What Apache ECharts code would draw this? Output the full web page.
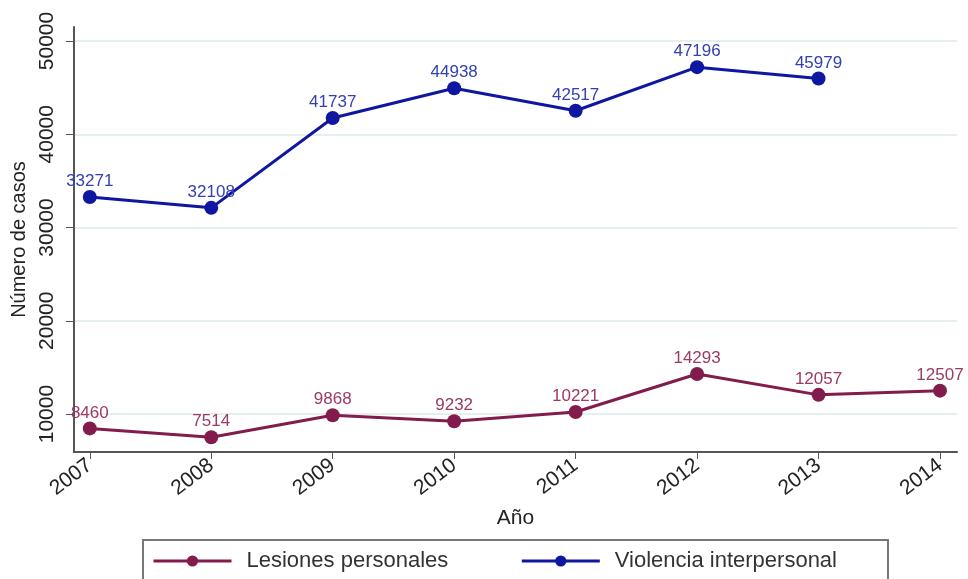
<!DOCTYPE html>
<html>
<head>
<meta charset="utf-8">
<script src="https://cdn.jsdelivr.net/npm/echarts@6/dist/echarts.min.js"></script>
<style>html,body{margin:0;padding:0;background:#fff}#c{width:968px;height:579px}</style>
</head>
<body>
<div id="c"></div>
<script>
const years = [2007, 2008, 2009, 2010, 2011, 2012, 2013, 2014];
const lesiones = [8460, 7514, 9868, 9232, 10221, 14293, 12057, 12507];
const violencia = [33271, 32108, 41737, 44938, 42517, 47196, 45979, null];
const yTicks = [10000, 20000, 30000, 40000, 50000];

const font = 'Liberation Sans, Arial, sans-serif';
const chart = echarts.init(document.getElementById('c'));
function pairs(vals){ return years.map((y,i)=>[y, vals[i]]).filter(p=>p[1]!==null); }

chart.setOption({
  animation: false,
  grid: {left: 74, right: 11, top: 27, bottom: 127, outerBoundsMode: 'none', containLabel: false},
  xAxis: {
    type: 'value', min: 2006.87, max: 2014.14,
    name: 'Año', nameLocation: 'middle', nameGap: 56,
    nameTextStyle: {fontFamily: font, fontSize: 21, color: '#222'},
    axisLine: {show: true, lineStyle: {color: '#555', width: 2}},
    axisTick: {show: true, length: 7, customValues: years, lineStyle: {color: '#555'}},
    axisLabel: {customValues: years, rotate: 37, fontFamily: font, fontSize: 21, color: '#222', margin: 11,
      formatter: v => String(Math.round(v))},
    splitLine: {show: false}
  },
  yAxis: {
    type: 'value', min: 5930, max: 51500,
    name: 'Número de casos', nameLocation: 'middle', nameGap: 41, nameRotate: 90,
    nameTextStyle: {fontFamily: font, fontSize: 20, color: '#222'},
    axisLine: {show: true, lineStyle: {color: '#555', width: 2}},
    axisTick: {show: true, length: 8, customValues: yTicks, lineStyle: {color: '#555'}},
    axisLabel: {customValues: yTicks, rotate: 90, fontFamily: font, fontSize: 21, color: '#222', margin: 16,
      formatter: v => String(Math.round(v))},
    splitLine: {show: true, lineStyle: {color: '#e6eff0', width: 2}}
  },
  legend: {
    left: 143, top: 540,
    padding: [10, 51, 20, 9],
    itemGap: 72, itemWidth: 78, itemHeight: 14,
    borderColor: '#777', borderWidth: 2, borderRadius: 0,
    lineStyle: {width: 3},
    textStyle: {fontFamily: font, fontSize: 22, color: '#333', padding: [0, 0, 0, 10]},
    data: ['Lesiones personales', 'Violencia interpersonal']
  },
  series: [
    {
      name: 'Lesiones personales', type: 'line', data: pairs(lesiones),
      symbol: 'circle', symbolSize: 14,
      lineStyle: {color: '#821c4c', width: 3}, itemStyle: {color: '#821c4c'},
      label: {show: true, position: 'top', distance: 0, fontFamily: font, fontSize: 17, color: '#9a3a66'}
    },
    {
      name: 'Violencia interpersonal', type: 'line', data: pairs(violencia),
      symbol: 'circle', symbolSize: 14,
      lineStyle: {color: '#0f17a0', width: 3}, itemStyle: {color: '#0f17a0'},
      label: {show: true, position: 'top', distance: 0, fontFamily: font, fontSize: 17, color: '#3340b2'}
    }
  ]
});
</script>
</body>
</html>
